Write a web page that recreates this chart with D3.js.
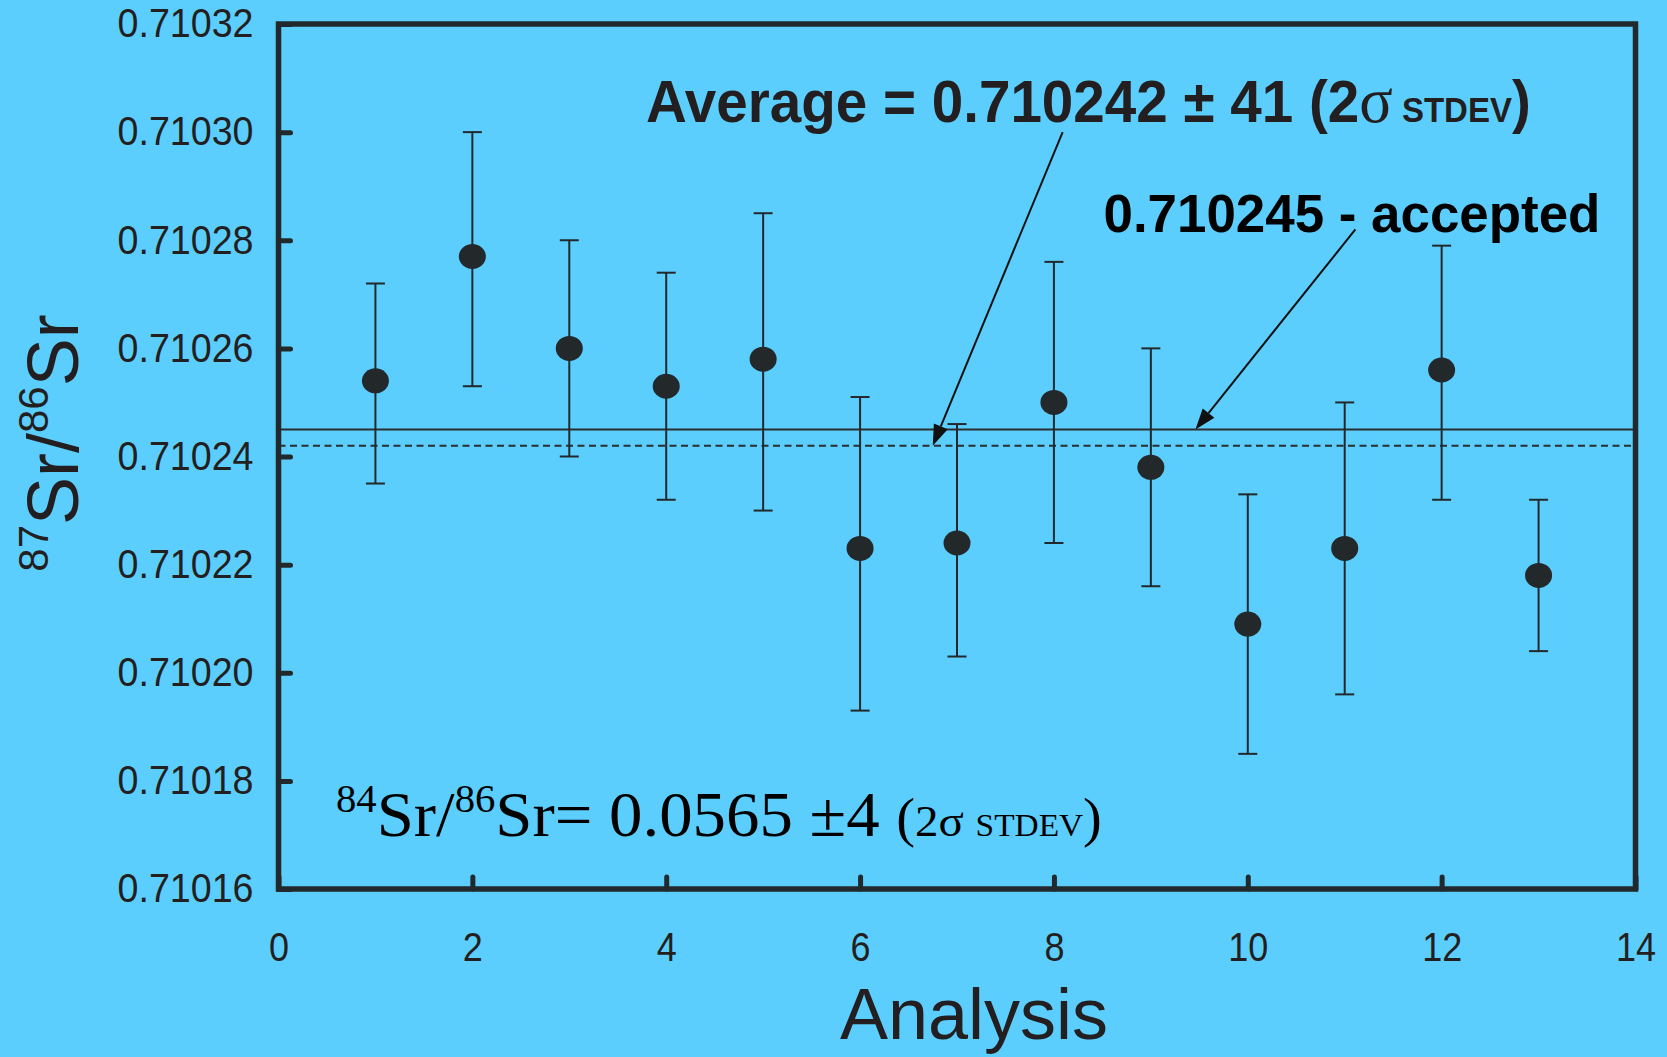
<!DOCTYPE html>
<html>
<head>
<meta charset="utf-8">
<script src="https://cdn.jsdelivr.net/npm/d3@7/dist/d3.min.js"></script>
<style>
  html, body { margin: 0; padding: 0; background: #5ccefd; }
  svg { display: block; }
</style>
</head>
<body>
<svg id="chart" width="1667" height="1057"></svg>
<script>
// Repeated 87Sr/86Sr analyses of the standard, with 2σ error bars
const analysis = [1, 2, 3, 4, 5, 6, 7, 8, 9, 10, 11, 12, 13];
const ratio87 = [0.710254, 0.710277, 0.710260, 0.710253, 0.710258, 0.710223, 0.710224,
                 0.710250, 0.710238, 0.710209, 0.710223, 0.710256, 0.710218];
const barHigh = [0.710272, 0.710300, 0.710280, 0.710274, 0.710285, 0.710251, 0.710246,
                 0.710276, 0.710260, 0.710233, 0.710250, 0.710279, 0.710232];
const barLow  = [0.710235, 0.710253, 0.710240, 0.710232, 0.710230, 0.710193, 0.710203,
                 0.710224, 0.710216, 0.710185, 0.710196, 0.710232, 0.710204];

const yTicks = [0.71016, 0.71018, 0.71020, 0.71022, 0.71024, 0.71026, 0.71028, 0.71030, 0.71032];
const xTicks = [0, 2, 4, 6, 8, 10, 12, 14];

// Reference lines
const averageValue = 0.710242;
const acceptedValue = 0.710245;

// Callout arrows: tail position in data units, tip x in data units (tip sits on its line)
const averageArrow = { fromX: 8.09, fromY: 0.710300, toX: 6.75 };
const acceptedArrow = { fromX: 11.11, fromY: 0.710282, toX: 9.46 };

const ink = "#231f20";
const frameInk = "#22292c";

const svg = d3.select("#chart");
const W = 1667, H = 1057;
const box = { left: 278.5, right: 1635.5, top: 24, bottom: 889 };

svg.append("rect").attr("width", W).attr("height", H).attr("fill", "#5ccefd");

const x = d3.scaleLinear().domain([0, 14]).range([box.left, box.right]);
const y = d3.scaleLinear().domain([0.71016, 0.71032]).range([box.bottom, box.top]);

const sans = "'Liberation Sans', Arial, Helvetica, sans-serif";
const serif = "'Liberation Serif', 'Times New Roman', Times, serif";

// Axes with inward ticks; the domain path is replaced by the frame
const yAxis = svg.append("g")
  .attr("transform", `translate(${box.left},0)`)
  .call(d3.axisLeft(y).tickValues(yTicks).tickFormat(d3.format(".5f")).tickSize(-12).tickPadding(25));
const xAxis = svg.append("g")
  .attr("transform", `translate(0,${box.bottom})`)
  .call(d3.axisBottom(x).tickValues(xTicks).tickFormat(d3.format("d")).tickSize(-12).tickPadding(44));

[[yAxis, 0.94], [xAxis, 0.9]].forEach(([g, squeeze]) => {
  g.select(".domain").remove();
  g.selectAll(".tick line").attr("stroke", frameInk).attr("stroke-width", 5).attr("stroke-linecap", "round");
  g.selectAll(".tick text").attr("fill", ink).attr("font-family", sans).attr("font-size", 40)
    .each(function () {
      // slightly narrow numerals
      const w = this.getComputedTextLength();
      d3.select(this).attr("textLength", w * squeeze).attr("lengthAdjust", "spacingAndGlyphs");
    });
});

// Reference lines across the plot
svg.append("line")
  .attr("x1", x(0)).attr("x2", x(14))
  .attr("y1", y(acceptedValue)).attr("y2", y(acceptedValue))
  .attr("stroke", "#2a2e30").attr("stroke-width", 2);
svg.append("line")
  .attr("x1", x(0)).attr("x2", x(14))
  .attr("y1", y(averageValue)).attr("y2", y(averageValue))
  .attr("stroke", "#2a2e30").attr("stroke-width", 2)
  .attr("stroke-dasharray", "7,4.5");

// Error bars
const rows = analysis.map((a, i) => ({ a, v: ratio87[i], hi: barHigh[i], lo: barLow[i] }));
const bars = svg.append("g").attr("stroke", "#22282b").attr("stroke-width", 2).attr("fill", "none");
bars.selectAll("line.stem").data(rows).join("line").attr("class", "stem")
  .attr("x1", d => x(d.a)).attr("x2", d => x(d.a))
  .attr("y1", d => y(d.hi)).attr("y2", d => y(d.lo));
bars.selectAll("line.capHi").data(rows).join("line").attr("class", "capHi")
  .attr("x1", d => x(d.a) - 9.5).attr("x2", d => x(d.a) + 9.5)
  .attr("y1", d => y(d.hi)).attr("y2", d => y(d.hi));
bars.selectAll("line.capLo").data(rows).join("line").attr("class", "capLo")
  .attr("x1", d => x(d.a) - 9.5).attr("x2", d => x(d.a) + 9.5)
  .attr("y1", d => y(d.lo)).attr("y2", d => y(d.lo));

// Measured points
svg.append("g").selectAll("ellipse").data(rows).join("ellipse")
  .attr("cx", d => x(d.a)).attr("cy", d => y(d.v))
  .attr("rx", 13.5).attr("ry", 12.5)
  .attr("fill", "#23282b");

// Frame
svg.append("rect")
  .attr("x", box.left).attr("y", box.top)
  .attr("width", box.right - box.left).attr("height", box.bottom - box.top)
  .attr("fill", "none").attr("stroke", frameInk).attr("stroke-width", 5.5);

// Callout arrows
function arrow(a, lineValue) {
  const x1 = x(a.fromX), y1 = y(a.fromY), x2 = x(a.toX), y2 = y(lineValue);
  const ang = Math.atan2(y2 - y1, x2 - x1);
  const len = 21, half = 7.5;
  const bx = x2 - len * Math.cos(ang), by = y2 - len * Math.sin(ang);
  svg.append("line")
    .attr("x1", x1).attr("y1", y1).attr("x2", bx).attr("y2", by)
    .attr("stroke", "#111").attr("stroke-width", 2);
  const px = -Math.sin(ang) * half, py = Math.cos(ang) * half;
  svg.append("path")
    .attr("d", `M${x2},${y2}L${bx + px},${by + py}L${bx - px},${by - py}Z`)
    .attr("fill", "#111");
}
arrow(averageArrow, averageValue);
arrow(acceptedArrow, acceptedValue);

// Stretch or squeeze a text block to span a given width, starting at (x0, baseline)
function place(t, x0, baseline, width) {
  const b = t.node().getBBox();
  const k = width / b.width;
  t.attr("transform", `translate(${x0 - b.x * k},${baseline}) scale(${k},1)`);
}

// Average label
const avg = svg.append("text").attr("fill", ink).attr("font-family", sans).attr("font-weight", "bold").attr("font-size", 60);
avg.append("tspan").text(`Average = ${averageValue.toFixed(6)} ± 41 (2`);
avg.append("tspan").attr("font-family", serif).attr("font-weight", "normal").attr("font-size", 66).text("σ");
avg.append("tspan").attr("font-size", 35).text(" STDEV");
avg.append("tspan").text(")");
place(avg, 646, 122, 885);

// Accepted value label
const acc = svg.append("text").attr("fill", "#000").attr("font-family", sans).attr("font-weight", "bold").attr("font-size", 53)
  .text(`${acceptedValue.toFixed(6)} - accepted`);
place(acc, 1103.5, 232, 497);

// 84Sr/86Sr result
const sr84 = svg.append("text").attr("fill", "#000").attr("font-family", serif).attr("font-size", 64);
sr84.append("tspan").attr("font-size", 39).attr("dy", -24).text("84");
sr84.append("tspan").attr("dy", 24).text("Sr/");
sr84.append("tspan").attr("font-size", 39).attr("dy", -24).text("86");
sr84.append("tspan").attr("dy", 24).text("Sr= 0.0565 ±4 ");
sr84.append("tspan").attr("font-size", 54).text("(");
sr84.append("tspan").attr("font-size", 45).text("2σ ");
sr84.append("tspan").attr("font-size", 32).text("STDEV");
sr84.append("tspan").attr("font-size", 54).text(")");
place(sr84, 336, 836, 766);

// Axis titles
svg.append("text")
  .attr("x", 974).attr("y", 1039)
  .attr("text-anchor", "middle")
  .attr("fill", ink).attr("font-family", sans).attr("font-size", 72)
  .text("Analysis");

const yt = svg.append("text")
  .attr("transform", "translate(78,443) rotate(-90)")
  .attr("text-anchor", "middle")
  .attr("fill", ink).attr("font-family", sans).attr("font-size", 72);
yt.append("tspan").attr("font-size", 42).attr("dy", -30).text("87");
yt.append("tspan").attr("dy", 30).text("Sr/");
yt.append("tspan").attr("font-size", 42).attr("dy", -30).text("86");
yt.append("tspan").attr("dy", 30).text("Sr");
</script>
</body>
</html>
